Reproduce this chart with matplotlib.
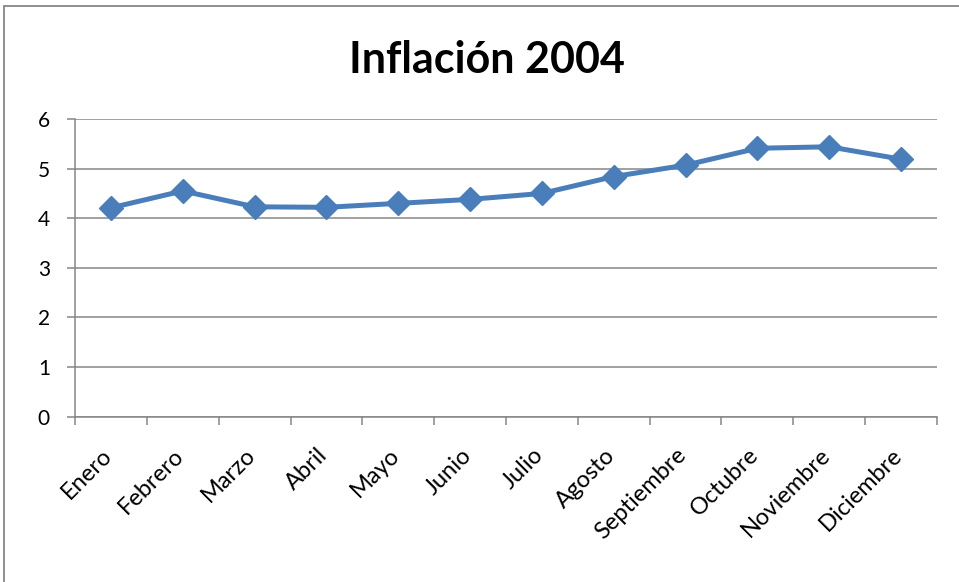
import numpy as np
import matplotlib.pyplot as plt
from matplotlib.patches import Rectangle
from matplotlib.transforms import ScaledTranslation

# ##### DATA ######
meses = ['Enero', 'Febrero', 'Marzo', 'Abril', 'Mayo', 'Junio',
         'Julio', 'Agosto', 'Septiembre', 'Octubre', 'Noviembre', 'Diciembre']
inflacion = [4.21, 4.55, 4.23, 4.22, 4.30, 4.38,
             4.50, 4.84, 5.07, 5.41, 5.44, 5.19]
y_ticks = [0, 1, 2, 3, 4, 5, 6]
titulo = 'Inflación 2004'
##################

plt.rcParams['font.family'] = ['Lato', 'DejaVu Sans']
W, H = 959, 582
grey = '#868686'

fig = plt.figure(figsize=(W / 100, H / 100), dpi=100)
ax = fig.add_axes([75 / W, 1 - 416.7 / H, (937 - 75) / W, (416.7 - 119) / H])

# chart border (excel style)
fig.patches.append(Rectangle((4 / W, -0.1), 1.2, 1 - 6 / H + 0.1, transform=fig.transFigure,
                             fill=False, edgecolor=grey, linewidth=1.3))

x = np.arange(len(meses))
ax.plot(x, inflacion, color='#4A7EBB', linewidth=3.6, marker='D', markersize=12,
        solid_joinstyle='round', zorder=3, clip_on=False)

ax.set_xlim(-0.5, len(meses) - 0.5)
ax.set_ylim(0, 6)
ax.set_yticks(y_ticks)
ax.yaxis.grid(True, color=grey, linewidth=1.1)
ax.set_axisbelow(True)

# ticks at category boundaries, labels at centers
ax.set_xticks(np.arange(-0.5, len(meses), 1))
ax.set_xticklabels([])
ax.set_xticks(x, minor=True)
ax.set_xticklabels(meses, minor=True, rotation=45, ha='right', va='top',
                   rotation_mode='anchor', fontsize=17)
ax.tick_params(axis='x', which='minor', length=0, pad=20)
ax.tick_params(axis='x', which='major', length=6, width=1.1, color=grey, direction='out')
ax.tick_params(axis='y', length=6, width=1.1, color=grey, labelsize=15, pad=12)

# nudge rotated labels a bit to the left, like excel
shift = ScaledTranslation(-7 / 72, 0, fig.dpi_scale_trans)
for lbl in ax.get_xticklabels(minor=True):
    lbl.set_transform(lbl.get_transform() + shift)

for s in ['top', 'right']:
    ax.spines[s].set_visible(False)
for s in ['left', 'bottom']:
    ax.spines[s].set_color(grey)
    ax.spines[s].set_linewidth(1.1)

fig.text(487 / W, 1 - 60 / H, titulo, ha='center', va='center',
         fontsize=31, fontweight='bold')

plt.savefig('out.png', dpi=100)
plt.close()
